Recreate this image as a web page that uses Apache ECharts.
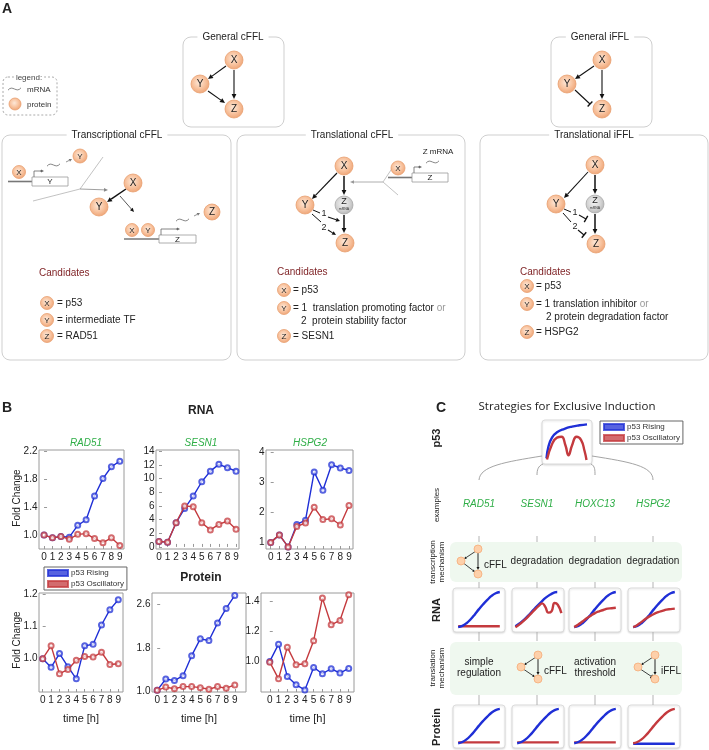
<!DOCTYPE html>
<html><head><meta charset="utf-8">
<script src="https://cdn.jsdelivr.net/npm/echarts@6/dist/echarts.min.js"></script>
<style>html,body{margin:0;padding:0;background:#fff}#c{width:709px;height:750px}</style>
</head><body><div id="c"></div>
<script>
// ---------------- DATA ----------------
const times = [0,1,2,3,4,5,6,7,8,9];
const rnaRAD51Rising = [1.0,0.96,0.98,0.97,1.14,1.22,1.56,1.81,1.98,2.06];
const rnaRAD51Osc    = [1.0,0.96,0.98,0.94,1.01,1.02,0.95,0.89,0.96,0.85];
const rnaSESN1Rising = [0.8,0.7,3.55,5.65,7.45,9.55,11.1,12.1,11.6,11.1];
const rnaSESN1Osc    = [0.8,0.7,3.55,6.0,5.9,3.55,2.5,3.3,3.8,2.6];
const rnaHSPG2Rising = [1.0,1.25,0.85,1.6,1.74,3.35,2.74,3.59,3.48,3.4];
const rnaHSPG2Osc    = [1.0,1.25,0.85,1.53,1.65,2.17,1.76,1.79,1.58,2.23];
const protRAD51Rising = [1.0,0.973,1.016,0.975,0.937,1.04,1.045,1.105,1.153,1.184];
const protRAD51Osc    = [1.0,1.04,0.953,0.966,0.995,1.007,1.005,1.02,0.982,0.984];
const protSESN1Rising = [1.02,1.23,1.2,1.29,1.66,1.97,1.94,2.26,2.53,2.77];
const protSESN1Osc    = [1.02,1.08,1.05,1.09,1.09,1.07,1.04,1.09,1.06,1.12];
const protHSPG2Rising = [1.0,1.115,0.9,0.844,0.81,0.96,0.918,0.951,0.922,0.953];
const protHSPG2Osc    = [0.995,0.884,1.095,0.978,0.984,1.138,1.422,1.244,1.273,1.444];

const yTicksRnaRAD51 = [1.0,1.4,1.8,2.2];
const yTicksRnaSESN1 = [0,2,4,6,8,10,12,14];
const yTicksRnaHSPG2 = [1,2,3,4];
const yTicksProtRAD51 = [1.0,1.1,1.2];
const yTicksProtSESN1 = [1.0,1.8,2.6];
const yTicksProtHSPG2 = [1.0,1.2,1.4];

// schematic curves (panel C), relative units
const miniX = [0.1,0.18,0.26,0.34,0.42,0.5,0.58,0.66,0.74,0.82,0.9];
const sigRise = [0.11,0.14,0.2,0.29,0.4,0.52,0.63,0.73,0.82,0.88,0.91];
const flatLow = [0.13,0.13,0.13,0.13,0.13,0.13,0.13,0.13,0.13,0.13,0.13];
const flatLower = [0.1,0.1,0.1,0.1,0.1,0.1,0.1,0.1,0.1,0.1,0.1];
const hoxcOsc = [0.11,0.17,0.24,0.31,0.37,0.43,0.47,0.5,0.53,0.54,0.55];
const hspgOsc = [0.11,0.16,0.23,0.3,0.36,0.41,0.45,0.48,0.51,0.52,0.53];
const sesnRiseX = [0.065,0.15,0.25,0.35,0.45,0.55,0.65,0.75,0.82,0.87];
const sesnRiseY = [0.13,0.2,0.3,0.42,0.55,0.67,0.78,0.86,0.9,0.91];
const sesnOscX = [0.065,0.15,0.25,0.35,0.45,0.52,0.58,0.64,0.7,0.76,0.82,0.88,0.95];
const sesnOscY = [0.11,0.18,0.28,0.4,0.52,0.6,0.65,0.57,0.44,0.47,0.66,0.62,0.43];
const p53RiseX = [0.09,0.13,0.2,0.3,0.45,0.6,0.75,0.9];
const p53RiseY = [0.13,0.4,0.6,0.72,0.8,0.85,0.88,0.9];
const p53OscX = [0.1,0.2,0.3,0.39,0.47,0.53,0.6,0.69,0.78,0.85,0.89];
const p53OscY = [0.1,0.45,0.6,0.62,0.42,0.2,0.42,0.62,0.55,0.3,0.09];

const BLUE = '#1f2fd6', RED = '#c43a3e';
const NAME_R = 'p53 Rising', NAME_O = 'p53 Oscillatory';
const FONT = '"Liberation Sans", Arial, sans-serif';

// ---------------- PANEL B GRIDS ----------------
const plotsB = [
  {grid:{left:39,top:450,width:85,height:99}, xr:[-0.6,9.5], yr:[0.8,2.22], yt:yTicksRnaRAD51, dec:1, r:rnaRAD51Rising, o:rnaRAD51Osc},
  {grid:{left:156,top:450,width:83,height:99}, xr:[-0.35,9.35], yr:[-0.3,14.2], yt:yTicksRnaSESN1, dec:0, r:rnaSESN1Rising, o:rnaSESN1Osc},
  {grid:{left:266,top:450,width:87,height:99}, xr:[-0.54,9.46], yr:[0.78,4.08], yt:yTicksRnaHSPG2, dec:0, r:rnaHSPG2Rising, o:rnaHSPG2Osc},
  {grid:{left:39,top:593,width:84,height:99}, xr:[-0.44,9.56], yr:[0.896,1.205], yt:yTicksProtRAD51, dec:1, r:protRAD51Rising, o:protRAD51Osc, name:true},
  {grid:{left:152,top:593,width:94,height:99}, xr:[-0.6,10.3], yr:[0.99,2.815], yt:yTicksProtSESN1, dec:1, r:protSESN1Rising, o:protSESN1Osc, name:true},
  {grid:{left:261,top:593,width:93,height:99}, xr:[-1.0,9.6], yr:[0.796,1.456], yt:yTicksProtHSPG2, dec:1, r:protHSPG2Rising, o:protHSPG2Osc, name:true}
];
const grids = [], xAxes = [], yAxes = [], series = [];
plotsB.forEach((p,i)=>{
  grids.push(Object.assign({show:true, borderColor:'#9a9a9a', borderWidth:1, backgroundColor:'#fff'}, p.grid));
  xAxes.push({gridIndex:i, type:'value', min:p.xr[0], max:p.xr[1],
    axisLine:{show:false}, splitLine:{show:false},
    axisTick:{show:true, inside:true, length:3, customValues:times, lineStyle:{color:'#999'}},
    axisLabel:{customValues:times, fontSize:10, margin:3, color:'#222', fontFamily:FONT},
    name:p.name?'time [h]':'', nameLocation:'middle', nameGap:21, nameTextStyle:{fontSize:11, color:'#222', fontFamily:FONT}});
  yAxes.push({gridIndex:i, type:'value', min:p.yr[0], max:p.yr[1],
    axisLine:{show:false}, splitLine:{show:false},
    axisTick:{show:true, inside:true, length:3, customValues:p.yt, lineStyle:{color:'#999'}},
    axisLabel:{customValues:p.yt, fontSize:10, margin:1.5, color:'#222', fontFamily:FONT, formatter:v=>Number(v).toFixed(p.dec)}});
  [[NAME_R,p.r,BLUE,3],[NAME_O,p.o,RED,4]].forEach(([nm,arr,col,z])=>{
    series.push({type:'line', name:nm, xAxisIndex:i, yAxisIndex:i, z,
      data: times.map((t,k)=>[t,arr[k]]),
      symbol:'emptyCircle', symbolSize:5, color:col,
      lineStyle:{width:1.4, color:col}, itemStyle:{color:col, borderColor:col, borderWidth:0.8, opacity:0.75}});
  });
});

// ---------------- PANEL C MINI PLOTS ----------------
const miniBoxes = [];
function miniGrid(left, top, w, h, curves){
  const gi = grids.length;
  grids.push({left, top, width:w, height:h, show:false});
  xAxes.push({gridIndex:gi, type:'value', min:0, max:1, show:false});
  yAxes.push({gridIndex:gi, type:'value', min:0, max:1, show:false});
  miniBoxes.push([left,top,w,h]);
  curves.forEach(([nm,xs,ys,col])=>{
    series.push({type:'line', name:nm, xAxisIndex:gi, yAxisIndex:gi, smooth:0.5, symbol:'none', z:3,
      data: xs.map((x,k)=>[x,ys[k]]), color:col, lineStyle:{width:2.4, color:col}});
  });
}
miniGrid(542,420,50,44,[[NAME_R,p53RiseX,p53RiseY,BLUE],[NAME_O,p53OscX,p53OscY,RED]]);
const colX = [479,537,595,653];
const colLeft = [453,512,569,628];
// RNA row
miniGrid(colLeft[0],588,52,44,[[NAME_O,miniX,flatLow,RED],[NAME_R,miniX,sigRise,BLUE]]);
miniGrid(colLeft[1],588,52,44,[[NAME_R,sesnRiseX,sesnRiseY,BLUE],[NAME_O,sesnOscX,sesnOscY,RED]]);
miniGrid(colLeft[2],588,52,44,[[NAME_R,miniX,sigRise,BLUE],[NAME_O,miniX,hoxcOsc,RED]]);
miniGrid(colLeft[3],588,52,44,[[NAME_R,miniX,sigRise,BLUE],[NAME_O,miniX,hspgOsc,RED]]);
// Protein row
miniGrid(colLeft[0],705,52,43,[[NAME_O,miniX,flatLow,RED],[NAME_R,miniX,sigRise,BLUE]]);
miniGrid(colLeft[1],705,52,43,[[NAME_O,miniX,flatLow,RED],[NAME_R,miniX,sigRise,BLUE]]);
miniGrid(colLeft[2],705,52,43,[[NAME_O,miniX,flatLow,RED],[NAME_R,miniX,sigRise,BLUE]]);
miniGrid(colLeft[3],705,52,43,[[NAME_R,miniX,flatLower,BLUE],[NAME_O,miniX,sigRise,RED]]);

// ---------------- GRAPHIC HELPERS ----------------
const G = [];
function T(x,y,s,o={}){
  const st = {text:s, font:o.font||('10px '+FONT), fill:o.fill||'#222',
    align:o.align||'center', verticalAlign:o.va||'middle', textAlign:o.align||'center', textVerticalAlign:o.va||'middle'};
  if(o.bg){st.backgroundColor=o.bg; st.padding=o.pad||[0,4];}
  if(o.rich) st.rich=o.rich;
  if(o.lh) st.lineHeight=o.lh;
  G.push({type:'text', x, y, rotation:o.rot||0, z:o.z||8, style:st});
}
const NODE_FILL = {type:'radial', x:0.45, y:0.42, r:0.6, colorStops:[{offset:0,color:'#fde8d8'},{offset:0.55,color:'#f8c39f'},{offset:1,color:'#eda273'}]};
const GRAY_FILL = {type:'radial', x:0.45, y:0.42, r:0.6, colorStops:[{offset:0,color:'#f4f4f4'},{offset:0.6,color:'#d4d4d4'},{offset:1,color:'#b3b3b3'}]};
function node(x,y,r,label,fs,gray){
  G.push({type:'circle', z:6, shape:{cx:x,cy:y,r}, style:{fill:gray?GRAY_FILL:NODE_FILL, stroke:gray?'#aaa':'#e8a070', lineWidth:0.8}});
  if(label) T(x,y+0.5,label,{font:(fs||10)+'px '+FONT, z:7});
}
function flatNode(x,y,r){
  G.push({type:'circle', z:6, shape:{cx:x,cy:y,r}, style:{fill:'#fdd0aa', stroke:'#f5ac78', lineWidth:0.8}});
}
function line(x1,y1,x2,y2,c,w,z){
  G.push({type:'line', z:z||4, shape:{x1,y1,x2,y2}, style:{stroke:c||'#111', lineWidth:w||1}});
}
function arrow(x1,y1,x2,y2,o={}){
  const c=o.c||'#111', w=o.w||1.1, h=o.h||5, hw=o.hw||2.4;
  const a=Math.atan2(y2-y1,x2-x1);
  const bx=x2-h*Math.cos(a), by=y2-h*Math.sin(a);
  line(x1,y1,bx,by,c,w,5);
  G.push({type:'polygon', z:5, shape:{points:[[x2,y2],[bx+hw*Math.sin(a),by-hw*Math.cos(a)],[bx-hw*Math.sin(a),by+hw*Math.cos(a)]]}, style:{fill:c}});
}
function inhib(x1,y1,x2,y2,o={}){
  const c=o.c||'#111', w=o.w||1.1, hw=o.hw||3.5;
  const a=Math.atan2(y2-y1,x2-x1);
  line(x1,y1,x2,y2,c,w,5);
  line(x2+hw*Math.sin(a),y2-hw*Math.cos(a),x2-hw*Math.sin(a),y2+hw*Math.cos(a),c,w+0.3,5);
}
function box(x,y,w,h,title,tx,o={}){
  G.push({type:'rect', z:1, shape:{x,y,width:w,height:h,r:o.r||8}, style:{fill:o.fill||'#fff', stroke:o.stroke||'#cfcfcf', lineWidth:1, lineDash:o.dash||null}});
  if(title) T(tx, y, title, {bg:'#fff', pad:[0,5], font:'10px '+FONT, z:3});
}
function wave(x,y,w,h,c){
  G.push({type:'bezierCurve', z:4, shape:{x1:x,y1:y+h*0.3,cpx1:x+w*0.35,cpy1:y-h*1.2,cpx2:x+w*0.65,cpy2:y+h*1.2,x2:x+w,y2:y-h*0.3}, style:{stroke:c||'#555', fill:null, lineWidth:0.8}});
}
function gene(x1,x2,bx,by,bw,bh,label,prX,prTop,prEnd){
  line(x1,by+bh/2,bx,by+bh/2,'#777',1.6,3);
  G.push({type:'rect', z:3, shape:{x:bx,y:by,width:bw,height:bh}, style:{fill:'#fff', stroke:'#999', lineWidth:0.8}});
  T(bx+bw/2, by+bh/2+0.5, label, {font:'8px '+FONT, z:4});
  G.push({type:'polyline', z:4, shape:{points:[[prX,by],[prX,prTop],[prEnd-2,prTop]]}, style:{stroke:'#666', fill:null, lineWidth:0.8}});
  arrow(prEnd-3,prTop,prEnd+1,prTop,{c:'#666',w:0.8,h:3,hw:1.5});
}

// ---------------- PANEL A ----------------
T(7,9,'A',{font:'bold 14px '+FONT});
// legend
box(3,77,54,38,null,0,{r:5,dash:[2,2],stroke:'#aaa'});
T(29,78,'legend:',{font:'8px '+FONT, bg:'#fff', pad:[0,2], fill:'#444'});
wave(8,89,13,4,'#666');
T(27,89.5,'mRNA',{font:'8px '+FONT, align:'left', fill:'#333'});
node(15,104,6);
T(27,104.5,'protein',{font:'8px '+FONT, align:'left', fill:'#333'});

// General cFFL
box(183,37,101,90,'General cFFL',233);
node(234,60,9,'X'); node(200,84,9,'Y'); node(234,109,9,'Z');
arrow(226,66,208,79); arrow(234,70,234,99); arrow(208,91,225,103);
// General iFFL
box(551,37,101,90,'General iFFL',600);
node(602,60,9,'X'); node(567,84,9,'Y'); node(602,109,9,'Z');
arrow(594,66,575,79); arrow(602,70,602,99); inhib(575,90,590,104);

// Transcriptional cFFL
box(2,135,229,225,'Transcriptional cFFL',117);
node(19,172,6.5,'X',8);
gene(8,33,32,177,36,9,'Y',34,171,43);
wave(47,165,13,4,'#666');
arrow(66,162,72,159,{c:'#777',w:0.8,h:3,hw:1.6});
node(80,156,7,'Y',8);
line(103,157,80,189,'#bbb',0.9,2); line(80,189,33,201,'#bbb',0.9,2);
arrow(80,189,108,190,{c:'#888',w:0.8,h:4,hw:1.8});
node(133,183,9,'X'); node(99,207,9,'Y');
arrow(126,189,107,202,{w:1.5});
arrow(120,196,134,212,{w:0.7,h:4,hw:1.8});
node(132,230,6.5,'X',8); node(148,230,6.5,'Y',8);
gene(124,159,159,235,37,8,'Z',161,229,179);
wave(176,220,13,4,'#666');
arrow(194,216,200,213,{c:'#777',w:0.8,h:3,hw:1.6});
node(212,212,8,'Z');
T(39,273,'Candidates',{align:'left', fill:'#7d1f22'});
[['X','= p53',303],['Y','= intermediate TF',320],['Z','= RAD51',336]].forEach(([l,s,y])=>{node(47,y,6.5,l,8); T(57,y+0.5,s,{align:'left'});});

// Translational cFFL
box(237,135,228,225,'Translational cFFL',352);
node(344,166,9,'X'); node(305,205,9,'Y'); node(344,205,9,null,10,true); node(345,243,9,'Z');
T(344,202,'Z',{font:'9px '+FONT}); T(344,209.5,'mRNA',{font:'3.5px '+FONT, fill:'#333'});
arrow(337,173,312,199); arrow(344,176,344,195,{w:1.5}); arrow(344,215,344,233,{w:1.5});
line(313,210,320,213); T(324,214,'1',{font:'9px '+FONT}); arrow(328,217,340,221,{h:4,hw:2});
line(312,214,321,222); T(324,227.5,'2',{font:'9px '+FONT}); arrow(328,230,336,235,{h:4,hw:2});
// inset
line(383,182,393,167,'#bbb',0.9,2); line(383,182,398,195,'#bbb',0.9,2);
arrow(383,182,350,182,{c:'#999',w:0.8,h:4,hw:1.8});
node(398,168,7,'X',8);
gene(388,412,412,173,36,9,'Z',414,167,421);
wave(426,162,13,4,'#666');
T(438,152,'Z mRNA',{font:'8px '+FONT});
T(277,272,'Candidates',{align:'left', fill:'#7d1f22'});
node(284,290,6.5,'X',8); T(293,290.5,'= p53',{align:'left'});
node(284,308,6.5,'Y',8); T(293,308.5,'= 1  translation promoting factor {g|or}',{align:'left', rich:{g:{fill:'#999', font:'10px '+FONT}}});
T(301,321.5,'2  protein stability factor',{align:'left'});
node(284,336,6.5,'Z',8); T(293,336.5,'= SESN1',{align:'left'});

// Translational iFFL
box(480,135,228,225,'Translational iFFL',594);
node(595,165,9,'X'); node(556,204,9,'Y'); node(595,204,9,null,10,true); node(596,244,9,'Z');
T(595,201,'Z',{font:'9px '+FONT}); T(595,208.5,'mRNA',{font:'3.5px '+FONT, fill:'#333'});
arrow(588,172,564,198); arrow(595,175,595,194,{w:1.5}); arrow(595,214,595,234,{w:1.5});
line(564,209,571,212); T(575,213,'1',{font:'9px '+FONT}); inhib(579,215,586,219);
line(563,213,571,222); T(575,227,'2',{font:'9px '+FONT}); inhib(578,230,584,235);
T(520,272,'Candidates',{align:'left', fill:'#7d1f22'});
node(527,286,6.5,'X',8); T(536,286.5,'= p53',{align:'left'});
node(527,304,6.5,'Y',8); T(536,304.5,'= 1 translation inhibitor {g|or}',{align:'left', rich:{g:{fill:'#999', font:'10px '+FONT}}});
T(546,317.5,'2 protein degradation factor',{align:'left'});
node(527,332,6.5,'Z',8); T(536,332.5,'= HSPG2',{align:'left'});

// ---------------- PANEL B TEXT ----------------
T(7,408,'B',{font:'bold 14px '+FONT});
T(201,411,'RNA',{font:'bold 12px '+FONT});
T(201,578,'Protein',{font:'bold 12px '+FONT});
const GREEN = '#2fae47';
T(86,443,'RAD51',{font:'italic 10px '+FONT, fill:GREEN});
T(201,443,'SESN1',{font:'italic 10px '+FONT, fill:GREEN});
T(310,443,'HSPG2',{font:'italic 10px '+FONT, fill:GREEN});
T(17,498,'Fold Change',{rot:Math.PI/2, font:'10px '+FONT});
T(17,640,'Fold Change',{rot:Math.PI/2, font:'10px '+FONT});

// ---------------- PANEL C GRAPHICS ----------------
T(441,408,'C',{font:'bold 14px '+FONT});
T(567,407,'Strategies for Exclusive Induction',{font:'11.5px "Open Sans", '+FONT});
miniBoxes.forEach(([l,t,w,h])=>{
  G.push({type:'rect', z:1, shape:{x:l,y:t,width:w,height:h,r:3}, style:{fill:'#fff', stroke:'#dcdcdc', lineWidth:1, shadowBlur:2, shadowColor:'rgba(0,0,0,0.12)', shadowOffsetY:1}});
});
// bands
G.push({type:'rect', z:0, shape:{x:450,y:542,width:232,height:40,r:6}, style:{fill:'#eff8ef'}});
G.push({type:'rect', z:0, shape:{x:450,y:642,width:232,height:53,r:6}, style:{fill:'#eff8ef'}});
// connectors
function bez(x1,y1,c1x,c1y,c2x,c2y,x2,y2){G.push({type:'bezierCurve', z:2, shape:{x1,y1,cpx1:c1x,cpy1:c1y,cpx2:c2x,cpy2:c2y,x2,y2}, style:{stroke:'#9a9a9a', fill:null, lineWidth:0.9}});}
bez(542,456,505,462,480,466,479,480);
bez(592,456,630,462,653,466,653,480);
bez(543,464,538,466,537,470,537,475);
bez(591,464,595,466,595,470,595,475);
colX.forEach(x=>{ [[536,542],[582,588],[632,641],[695,705]].forEach(([a,b])=>line(x,a,x,b,'#aaa',0.9,2)); });
['RAD51','SESN1','HOXC13','HSPG2'].forEach((g,i)=>T(colX[i],504,g,{font:'italic 10px '+FONT, fill:GREEN}));
// row texts
['degradation','degradation','degradation'].forEach((s,i)=>T(colX[i+1],561,s,{font:'10px '+FONT}));
T(479,668,'simple\nregulation',{font:'10px '+FONT, lh:11});
T(595,668,'activation\nthreshold',{font:'10px '+FONT, lh:11});
// mini FFL diagrams
function miniFFL(lx,ly,tx,ty,by,lab,inh){
  arrow(tx-2,ty+2,lx+3,ly-2,{w:0.8,h:2.5,hw:1.3});
  arrow(tx,ty+4,tx,by-4,{w:0.9,h:3,hw:1.5});
  if(inh) inhib(lx+3,ly+2.5,tx-3.5,by-2.5,{w:0.8,hw:2});
  else arrow(lx+3,ly+2.5,tx-3,by-2,{w:0.8,h:2.5,hw:1.3});
  flatNode(lx,ly,4); flatNode(tx,ty,4); flatNode(tx,by,4);
  T(tx+6,(ty+by)/2+4,lab,{align:'left', font:'10px '+FONT});
}
miniFFL(461,561,478,549,574,'cFFL',false);
miniFFL(521,667,538,655,679,'cFFL',false);
miniFFL(638,667,655,655,679,'iFFL',true);
// side labels
T(437,438,'p53',{rot:Math.PI/2, font:'bold 11px '+FONT});
T(437,505,'examples',{rot:Math.PI/2, font:'8px '+FONT});
T(437,562,'transcription\nmechanism',{rot:Math.PI/2, font:'8px '+FONT, lh:9});
T(437,610,'RNA',{rot:Math.PI/2, font:'bold 11px '+FONT});
T(437,668,'translation\nmechanism',{rot:Math.PI/2, font:'8px '+FONT, lh:9});
T(437,727,'Protein',{rot:Math.PI/2, font:'bold 11px '+FONT});

const legendBase = {orient:'vertical', icon:'rect', itemWidth:20, itemHeight:6, itemGap:3, padding:[2,3],
  borderColor:'#666', borderWidth:1, backgroundColor:'#fff', selectedMode:false,
  textStyle:{fontSize:8, color:'#333', fontFamily:FONT, padding:[0,0,0,-2]}, data:[NAME_R,NAME_O]};
const option = {
  animation:false, backgroundColor:'#fff',
  grid:grids, xAxis:xAxes, yAxis:yAxes, series,
  legend:[Object.assign({left:44, top:567}, legendBase), Object.assign({left:600, top:421}, legendBase)],
  graphic:{elements:G}
};
const chart = echarts.init(document.getElementById('c'), null, {renderer:'canvas'});
chart.setOption(option);
</script></body></html>
